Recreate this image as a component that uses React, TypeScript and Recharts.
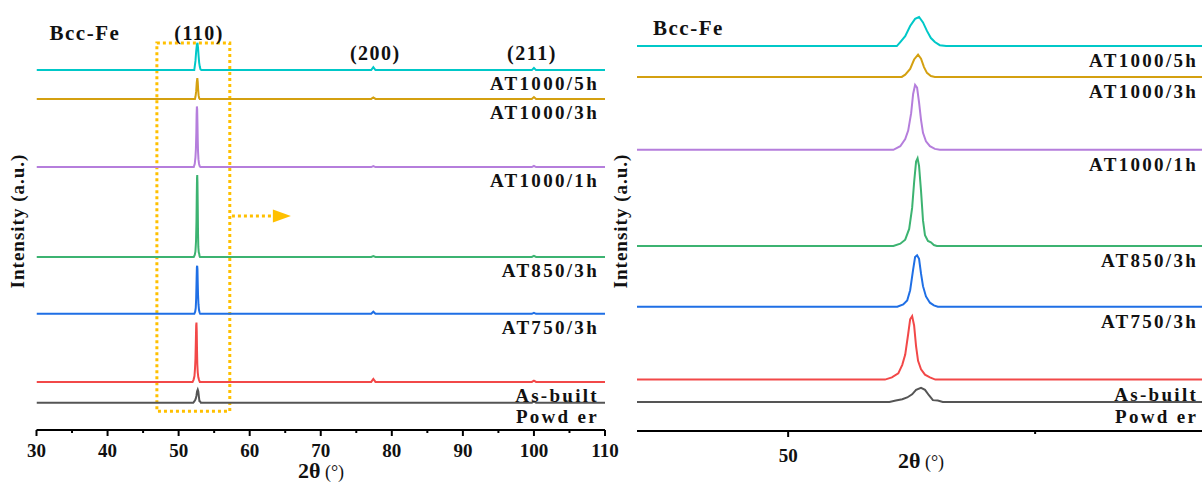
import React from 'react';
import { LineChart, Line, XAxis, YAxis, ReferenceArea, ReferenceLine, ReferenceDot } from 'recharts';

// ---------- data ----------
const sampleNames = ['AT1000/5h', 'AT1000/3h', 'AT1000/1h', 'AT850/3h', 'AT750/3h', 'As-built', 'Powd er'];
const sampleColors = ['#00C8C8', '#D4A010', '#B57EDC', '#3CB371', '#1F6FE5', '#F24848', '#555555'];
// vertical stacking offsets (a.u.)
const baselineOffsets = [86.1, 79.2, 62.9, 41.4, 27.8, 11.5, 6.5];

// 2θ (°), intensity above baseline (a.u.)
const at1000_5h: [number, number][] = [
  [30, 0], [52.2, 0], [52.27, 0.9], [52.37, 2.2], [52.47, 4.5], [52.57, 6.1], [52.65, 6.5], [52.73, 5.3],
  [52.81, 3.4], [52.89, 1.8], [52.97, 0.9], [53.07, 0.2], [53.2, 0], [77.1, 0], [77.4, 0.7], [77.7, 0],
  [99.7, 0], [100.0, 0.5], [100.3, 0], [110, 0],
];
const at1000_3h: [number, number][] = [
  [30, 0], [52.3, 0], [52.37, 0.5], [52.47, 1.8], [52.55, 3.9], [52.63, 5.0], [52.69, 4.1], [52.75, 2.2],
  [52.81, 0.9], [52.89, 0.2], [52.97, 0], [77.1, 0], [77.4, 0.35], [77.7, 0], [99.7, 0], [100.0, 0.45],
  [100.3, 0], [110, 0],
];
const at1000_1h: [number, number][] = [
  [30, 0], [52.13, 0], [52.27, 0.8], [52.37, 2.4], [52.43, 4.3], [52.49, 8.2], [52.53, 12.5], [52.57, 14.5],
  [52.61, 13.9], [52.65, 10.6], [52.69, 6.7], [52.73, 3.8], [52.79, 1.9], [52.87, 0.8], [52.97, 0.2],
  [53.07, 0], [77.1, 0], [77.4, 0.25], [77.7, 0], [99.7, 0], [100.0, 0.3], [100.3, 0], [110, 0],
];
const at850_3h: [number, number][] = [
  [30, 0], [52.13, 0], [52.27, 0.5], [52.37, 1.4], [52.45, 3.8], [52.51, 8.5], [52.55, 14.2], [52.59, 18.9],
  [52.62, 19.6], [52.65, 17.9], [52.69, 12.3], [52.73, 5.7], [52.77, 2.4], [52.83, 1.1], [52.89, 0.8],
  [52.95, 0.2], [53.01, 0], [77.1, 0], [77.4, 0.2], [77.7, 0], [99.7, 0], [100.0, 0.25], [100.3, 0], [110, 0],
];
const at750_3h: [number, number][] = [
  [30, 0], [52.21, 0], [52.33, 0.5], [52.41, 1.4], [52.47, 3.7], [52.53, 8.3], [52.57, 11.1], [52.61, 11.5],
  [52.65, 10.7], [52.69, 7.4], [52.73, 4.6], [52.79, 2.3], [52.87, 0.9], [52.95, 0.3], [53.03, 0],
  [77.1, 0], [77.4, 0.5], [77.7, 0], [99.7, 0], [100.0, 0.25], [100.3, 0], [110, 0],
];
const asBuilt: [number, number][] = [
  [30, 0], [51.96, 0], [52.1, 0.5], [52.23, 1.4], [52.31, 3.3], [52.37, 5.6], [52.43, 10.2], [52.47, 13.5],
  [52.51, 14.2], [52.55, 12.1], [52.59, 7.4], [52.63, 4.2], [52.69, 2.3], [52.77, 1.1], [52.87, 0.5],
  [52.98, 0], [77.1, 0], [77.4, 0.7], [77.7, 0], [99.7, 0], [100.0, 0.3], [100.3, 0], [110, 0],
];
const powder: [number, number][] = [
  [30, 0], [52.05, 0], [52.18, 0.3], [52.31, 0.6], [52.41, 1.0], [52.51, 1.7], [52.59, 2.7], [52.69, 3.15],
  [52.77, 2.7], [52.85, 1.5], [52.93, 0.4], [53.03, 0.3], [53.13, 0], [99.7, 0], [100.0, 0.35],
  [100.3, 0], [110, 0],
];
const sampleProfiles = [at1000_5h, at1000_3h, at1000_1h, at850_3h, at750_3h, asBuilt, powder];

// peak indices
const peakLabels = ['(110)', '(200)', '(211)'];
const peakPositions = [52.6, 77.4, 100.0];

// axis ticks
const leftTicks = [30, 35, 40, 45, 50, 55, 60, 65, 70, 75, 80, 85, 90, 95, 100, 105, 110];
const rightTicks = [50, 55, 60];
const rightLabeledTicks = [50];

// zoom window marked on the full pattern
const zoomBoxX = [46.94, 57.2];
const zoomBoxY = [4.5, 92.6];
const arrowY = 51.2;
const arrowX = [57.5, 63.3, 65.8];

// ---------- helpers ----------
const FONT = "'Liberation Serif', 'Times New Roman', serif";

const seriesData = sampleProfiles.map((prof, i) =>
  prof.map(([x, y]) => ({ x, y: y + baselineOffsets[i] }))
);

const axisStyle = { stroke: '#000', strokeWidth: 2 };

const makeTick = (axisY: number, labelY: number, labeled: (v: number) => boolean) => (props: any) => {
  const { x, payload } = props;
  const v = payload.value as number;
  const major = v % 10 === 0;
  return (
    <g>
      <line x1={x} x2={x} y1={axisY} y2={axisY + (major ? 6 : 3)} stroke="#000" strokeWidth={2} />
      {major && labeled(v) && (
        <text x={x} y={labelY} textAnchor="middle" fontFamily={FONT} fontWeight="bold" fontSize={19} fill="#111">
          {v}
        </text>
      )}
    </g>
  );
};

const textShape = (text: string, dx: number, dy: number, anchor: string, size: number, spacing: number) =>
  (p: any) => (
    <text
      x={p.cx + dx}
      y={p.cy + dy}
      textAnchor={anchor}
      fontFamily={FONT}
      fontWeight="bold"
      fontSize={size}
      letterSpacing={spacing}
      fill="#111"
    >
      {text}
    </text>
  );

const triangleShape = (p: any) => (
  <polygon points={`${p.cx},${p.cy} ${p.cx - 18},${p.cy - 6.5} ${p.cx - 18},${p.cy + 6.5}`} fill="#FFC000" />
);

const LeftChart = () => (
  <LineChart width={640} height={484} margin={{ top: 12, right: 35, bottom: 0, left: 36.5 }}>
    <XAxis
      dataKey="x"
      type="number"
      domain={[30, 110]}
      ticks={leftTicks}
      interval={0}
      allowDataOverflow
      tickLine={false}
      axisLine={axisStyle}
      height={54}
      tick={makeTick(430, 457, () => true)}
    />
    <XAxis xAxisId="t" orientation="top" dataKey="x" type="number" domain={[30, 110]} allowDataOverflow height={0} tick={false} tickLine={false} axisLine={axisStyle} />
    <YAxis type="number" domain={[0, 100]} allowDataOverflow width={0} tick={false} tickLine={false} axisLine={axisStyle} />
    <YAxis yAxisId="r" orientation="right" type="number" domain={[0, 100]} width={0} tick={false} tickLine={false} axisLine={axisStyle} />
    {seriesData.map((d, i) => (
      <Line key={sampleNames[i]} data={d} dataKey="y" type="linear" stroke={sampleColors[i]} strokeWidth={2} dot={false} isAnimationActive={false} />
    ))}
    <ReferenceArea
      x1={zoomBoxX[0]}
      x2={zoomBoxX[1]}
      y1={zoomBoxY[0]}
      y2={zoomBoxY[1]}
      fill="none"
      fillOpacity={0}
      stroke="#FFC000"
      strokeWidth={3}
      strokeDasharray="3 3"
    />
    <ReferenceLine
      segment={[{ x: arrowX[0], y: arrowY }, { x: arrowX[1], y: arrowY }]}
      stroke="#FFC000"
      strokeWidth={3}
      strokeDasharray="3 3"
    />
    <ReferenceDot x={arrowX[2]} y={arrowY} r={0} shape={triangleShape} />
    {sampleNames.map((n, i) => (
      <ReferenceDot key={'l' + n} x={110} y={baselineOffsets[i]} r={0} shape={textShape(n, -6, 20, 'end', 19, 2.3)} />
    ))}
    <ReferenceDot x={30} y={100} r={0} shape={textShape('Bcc-Fe', 13, 28, 'start', 21, 1.5)} />
    {peakLabels.map((t, i) => (
      <ReferenceDot key={t} x={peakPositions[i]} y={100} r={0} shape={textShape(t, i === 2 ? -2 : 2, i === 0 ? 28 : 48, 'middle', 20, 1.5)} />
    ))}
  </LineChart>
);

const RIGHT_DOMAIN = [46.94, 61.01];
const RightChart = () => (
  <LineChart width={720} height={484} margin={{ top: 13, right: 0, bottom: 0, left: 25 }}>
    <XAxis
      dataKey="x"
      type="number"
      domain={RIGHT_DOMAIN}
      ticks={rightTicks}
      interval={0}
      allowDataOverflow
      tickLine={false}
      axisLine={axisStyle}
      height={53}
      tick={makeTick(431, 462, (v) => rightLabeledTicks.includes(v))}
    />
    <XAxis xAxisId="t" orientation="top" dataKey="x" type="number" domain={RIGHT_DOMAIN} allowDataOverflow height={0} tick={false} tickLine={false} axisLine={axisStyle} />
    <YAxis type="number" domain={[0, 93.5]} allowDataOverflow width={0} tick={false} tickLine={false} axisLine={axisStyle} />
    {seriesData.map((d, i) => (
      <Line key={sampleNames[i]} data={d} dataKey="y" type="linear" stroke={sampleColors[i]} strokeWidth={2} dot={false} isAnimationActive={false} />
    ))}
    {sampleNames.map((n, i) => (
      <ReferenceDot key={'r' + n} x={58.3} y={baselineOffsets[i]} r={0} shape={textShape(n, 0, 21, 'end', 19, 2.3)} />
    ))}
    <ReferenceDot x={RIGHT_DOMAIN[0]} y={93.5} r={0} shape={textShape('Bcc-Fe', 16, 22, 'start', 21, 1.5)} />
  </LineChart>
);

const AxisTitles = () => (
  <svg width={1202} height={484} style={{ position: 'absolute', left: 0, top: 0, pointerEvents: 'none' }}>
    <text x={321} y={478} textAnchor="middle" fontFamily={FONT} fill="#111">
      <tspan fontWeight="bold" fontSize={22}>2θ</tspan>
      <tspan fontSize={18}> (°)</tspan>
    </text>
    <text x={921} y={468} textAnchor="middle" fontFamily={FONT} fill="#111">
      <tspan fontWeight="bold" fontSize={22}>2θ</tspan>
      <tspan fontSize={18}> (°)</tspan>
    </text>
    <text transform="translate(24,221) rotate(-90)" textAnchor="middle" fontFamily={FONT} fontWeight="bold" fontSize={19} letterSpacing={1} fill="#111">
      Intensity (a.u.)
    </text>
    <text transform="translate(627,221) rotate(-90)" textAnchor="middle" fontFamily={FONT} fontWeight="bold" fontSize={19} letterSpacing={1} fill="#111">
      Intensity (a.u.)
    </text>
  </svg>
);

export default function App() {
  return (
    <div style={{ position: 'fixed', left: 0, top: 0, width: 1202, height: 484, overflow: 'hidden', background: '#fff' }}>
      <div style={{ position: 'absolute', left: 0, top: 0 }}>
        <LeftChart />
      </div>
      <div style={{ position: 'absolute', left: 612, top: 0, width: 590, height: 484, overflow: 'hidden' }}>
        <div style={{ position: 'absolute', left: 0, top: 0 }}>
          <RightChart />
        </div>
      </div>
      <AxisTitles />
    </div>
  );
}
